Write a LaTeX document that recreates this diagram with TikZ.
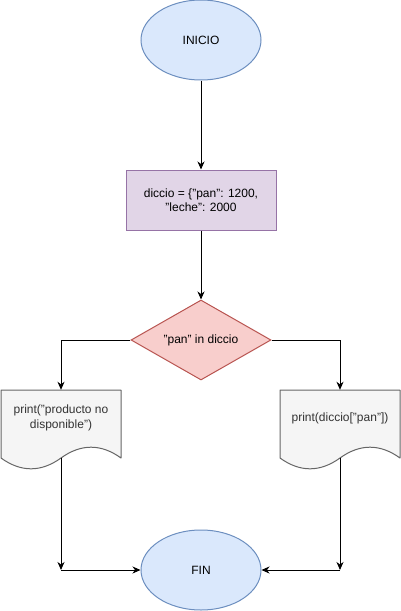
\documentclass[tikz,border=0pt]{standalone}
\usepackage{fontspec}
\setmainfont{Liberation Sans}
\usetikzlibrary{arrows.meta,shapes.geometric,positioning}

\definecolor{termfill}{HTML}{DAE8FC}
\definecolor{termline}{HTML}{6C8EBF}
\definecolor{procfill}{HTML}{E1D5E7}
\definecolor{procline}{HTML}{9673A6}
\definecolor{decfill}{HTML}{F8CECC}
\definecolor{decline}{HTML}{B85450}
\definecolor{docfill}{HTML}{F5F5F5}
\definecolor{docline}{HTML}{666666}
\definecolor{doctext}{HTML}{333333}

\begin{document}
\begin{tikzpicture}[x=1pt,y=-1pt]
\tikzset{
  termnode/.style={ellipse,draw=termline,fill=termfill,line width=1pt,minimum width=120pt,minimum height=80pt,inner sep=0pt,font=\fontsize{12}{14.4}\selectfont},
  procnode/.style={rectangle,draw=procline,fill=procfill,line width=1pt,minimum width=150pt,minimum height=60pt,inner sep=0pt,align=center,font=\fontsize{12}{14.4}\selectfont},
  decnode/.style={diamond,aspect=1.75,draw=decline,fill=decfill,line width=1pt,minimum width=140pt,minimum height=80pt,inner sep=0pt,font=\fontsize{12}{14.4}\selectfont},
  docnode/.style={rectangle,minimum width=120pt,minimum height=56pt,inner sep=0pt,align=center,text=doctext,font=\fontsize{12}{14.4}\selectfont},
  docwave/.style={draw=docline,fill=docfill,line width=1pt,line join=round},
  flowedge/.style={draw=black,line width=1pt},
  flowarrow/.style={flowedge,-{Stealth[length=8pt,width=7pt,inset=2.5pt]}}
}
\useasboundingbox (0,0) rectangle (401,611);
\node[termnode] (n_inicio) at (201,40) {INICIO};
\node[procnode] (n_dicc) at (201,200) {diccio = \{"pan": 1200,\\ "leche": 2000};
\node[decnode] (n_cond) at (201,340) {"pan" in diccio};
% document shapes with wavy bottom
\draw[docwave,shift={(1,390)}] (0,0) -- (120,0) -- (120,68) .. controls (100,53.6) and (80,53.6) .. (60,68) .. controls (40,82.4) and (20,82.4) .. (0,68) -- cycle;
\draw[docwave,shift={(280,390)}] (0,0) -- (120,0) -- (120,68) .. controls (100,53.6) and (80,53.6) .. (60,68) .. controls (40,82.4) and (20,82.4) .. (0,68) -- cycle;
\node[docnode] (n_print_l) at (61,418) {print("producto no\\disponible")};
\node[docnode] (n_print_r) at (340,418) {print(diccio["pan"])};
\node[termnode] (n_fin) at (201,570) {FIN};
\coordinate (w_l) at (61,458);
\coordinate (j_l) at (61,570);
\coordinate (w_r) at (340,458);
\coordinate (j_r) at (340,570);
\draw[flowarrow] (n_inicio) -- (n_dicc);
\draw[flowarrow] (n_dicc) -- (n_cond);
\draw[flowarrow] (n_cond) -| (n_print_l);
\draw[flowarrow] (n_cond) -| (n_print_r);
\draw[flowarrow] (w_l) -- (j_l);
\draw[flowarrow] (j_l) -- (n_fin);
\draw[flowarrow] (w_r) -- (j_r);
\draw[flowarrow] (j_r) -- (n_fin);
\end{tikzpicture}
\end{document}
